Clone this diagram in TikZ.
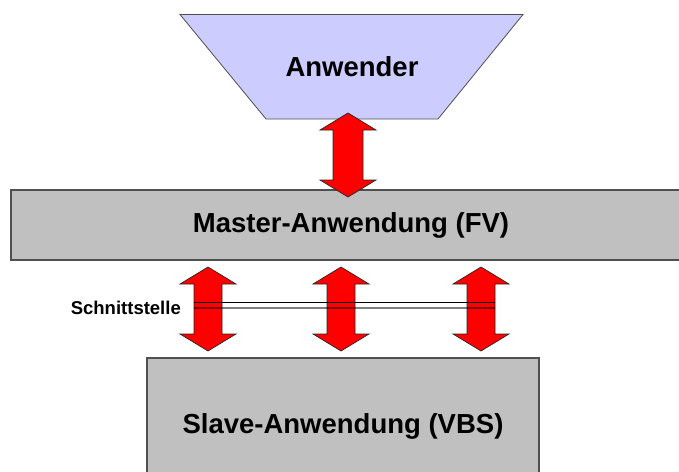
\documentclass[tikz,border=0pt]{standalone}
\usepackage{fontspec}
\setmainfont{Liberation Sans}
\definecolor{lilac}{RGB}{204,204,255}
\definecolor{panel}{RGB}{192,192,192}
\definecolor{edgegray}{RGB}{80,80,80}

% vertical two-headed block arrow: x centre, upper tip, lower tip, half shaft width
\newcommand\dualarrow[4]{%
  \filldraw[blockarrow] (#1,#2) -- (#1+28,#2+17) -- (#1+#4,#2+17) -- (#1+#4,#3-17)
    -- (#1+28,#3-17) -- (#1,#3) -- (#1-28,#3-17) -- (#1-#4,#3-17)
    -- (#1-#4,#2+17) -- (#1-28,#2+17) -- cycle;}

\begin{document}
\begin{tikzpicture}[x=1pt,y=-1pt,
  blockarrow/.style={fill=red, draw=black!85, line width=0.7pt, line join=miter},
  panelbox/.style={fill=panel, draw=edgegray, line width=1.4pt, inner sep=0pt},
  bigtext/.style={font=\fontsize{27.5}{33}\selectfont\bfseries, inner sep=0pt},
  smalltext/.style={font=\fontsize{18.5}{22}\selectfont\bfseries, inner sep=0pt}]
\useasboundingbox (0,0) rectangle (679,471);

% user layer
\filldraw[fill=lilac, draw=edgegray, line width=0.8pt]
  (180,14.5) -- (523,14.5) -- (438,119) -- (266,119) -- cycle;
\node[bigtext] (user) at (352,67) {Anwender};

% master and slave applications
\node[panelbox, minimum width=680pt, minimum height=70pt, bigtext] (master)
  at (351,225) {Master-Anwendung (FV)};
\node[panelbox, minimum width=392pt, minimum height=136pt, bigtext] (slave)
  at (343,426) {Slave-Anwendung (VBS)};

% block arrows
\dualarrow{348}{113}{197}{15}
\dualarrow{208}{267}{351}{14}
\dualarrow{341}{267}{351}{14}
\dualarrow{481}{267}{351}{14}

% interface line
\coordinate (ifL) at (194,302.5);
\coordinate (ifR) at (495,302.5);
\draw[black, line width=1pt] (ifL) -- (ifR);
\draw[black, opacity=0.5, line width=2pt] ([yshift=-5pt]ifL) -- ([yshift=-5pt]ifR);
\node[smalltext, anchor=east] (iface) at (181,308) {Schnittstelle};
\end{tikzpicture}
\end{document}
